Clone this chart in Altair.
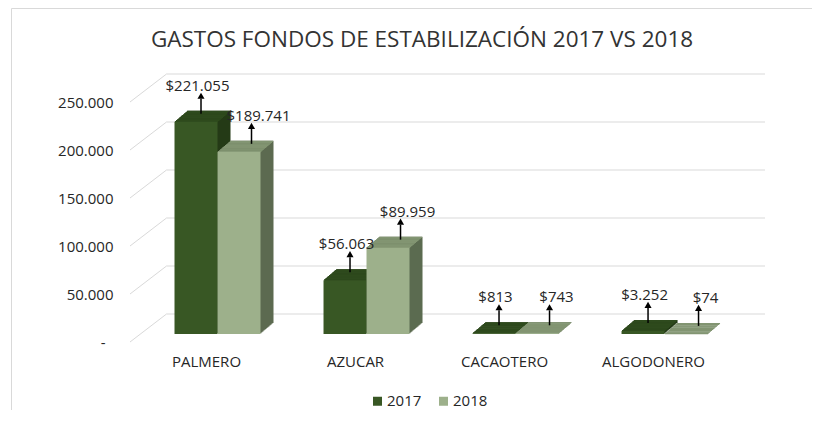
import altair as alt
import pandas as pd

# ---------------- data ----------------
categories = ["PALMERO", "AZUCAR", "CACAOTERO", "ALGODONERO"]
years = ["2017", "2018"]
values_2017 = [221055, 56063, 813, 3252]
values_2018 = [189741, 89959, 743, 74]
y_ticks = [0, 50000, 100000, 150000, 200000, 250000]
title_text = "GASTOS FONDOS DE ESTABILIZACIÓN 2017 VS 2018"


def money(v):
    return "$" + f"{v:,}".replace(",", ".")


df = pd.DataFrame({
    "cat": categories * 2,
    "year": ["2017"] * len(categories) + ["2018"] * len(categories),
    "value": values_2017 + values_2018,
})
df["label"] = df["value"].map(money)
grid_df = pd.DataFrame({"value": y_ticks})
one = pd.DataFrame({"k": [0]})

# ---------------- styling ----------------
W, H = 633, 240
FONT = "Open Sans"
GRID = "#d9d9d9"
TXT = "#262626"
front_colors = {"2017": "#385724", "2018": "#9db08b"}
top_colors = {"2017": "#2e4a1d", "2018": "#829572"}
side_colors = {"2017": "#243b16", "2018": "#5c6b50"}
bar_shift = {"2017": -10.5, "2018": 32.5}
arrow_shift = {"2017": -5.5, "2018": 45}
label_shift = {"2017": -9, "2018": 52}
BAR_W = 43
DEPTH_STEPS = 13
DY = 11 / 13

xscale = alt.Scale(domain=categories, paddingInner=0, paddingOuter=0.124, align=0)
yscale = alt.Scale(domain=[0, 250000], nice=False)
yaxis = alt.Axis(
    values=y_ticks,
    labelExpr="datum.value == 0 ? '-' : format(datum.value / 1000, 'd') + '.000'",
    labelPadding={"condition": {"test": "datum.value == 0", "value": 27}, "value": 19},
)
X = alt.X("cat:N", scale=xscale, title=None)
Y = alt.Y("value:Q", scale=yscale, axis=yaxis, title=None)
Y2 = alt.Y2("value:Q")

legend = alt.Legend(
    orient="none", legendX=238, legendY=299.5, direction="horizontal",
    title=None, symbolType="square", symbolSize=81, symbolStrokeWidth=0,
    labelFont=FONT, labelFontSize=15, labelColor=TXT, labelOffset=2,
    columnPadding=14, padding=0,
)
color = alt.Color(
    "year:N",
    scale=alt.Scale(domain=years, range=[front_colors[y] for y in years]),
    legend=legend,
)

layers = []

# outer frame
layers.append(
    alt.Chart(one).mark_rect(filled=False, stroke=GRID, strokeWidth=1).encode(
        x=alt.value(-120.5), x2=alt.value(W + 200),
        y=alt.value(-85.5), y2=alt.value(H + 200),
    )
)

# title
layers.append(
    alt.Chart(one).mark_text(
        text=title_text, font=FONT, fontSize=22.5, color="#333333",
        align="center", baseline="alphabetic",
    ).encode(x=alt.value(290), y=alt.value(-47.3))
)

# 3D wall grid: diagonal + back horizontal lines
layers.append(
    alt.Chart(grid_df).mark_rule(color=GRID, strokeWidth=1, yOffset=8, y2Offset=-20).encode(
        x=alt.value(-2), x2=alt.value(34.5), y=Y, y2=Y2
    )
)
layers.append(
    alt.Chart(grid_df).mark_rule(color=GRID, strokeWidth=1, yOffset=-20).encode(
        x=alt.value(34.5), x2=alt.value(W), y=Y
    )
)

# depth (side) extrusion
for yr in years:
    sub = alt.Chart(df).transform_filter(alt.datum.year == yr)
    for k in range(DEPTH_STEPS, 0, -1):
        layers.append(
            sub.mark_bar(
                width=BAR_W, color=side_colors[yr],
                xOffset=bar_shift[yr] + k,
                yOffset=-k * DY, y2Offset=-k * DY,
            ).encode(x=X, y=Y)
        )

# top faces
for yr in years:
    sub = alt.Chart(df).transform_filter(alt.datum.year == yr)
    for k in range(1, DEPTH_STEPS + 1):
        layers.append(
            sub.mark_bar(
                width=BAR_W, color=top_colors[yr],
                xOffset=bar_shift[yr] + k - 0.5,
                yOffset=-k * DY, y2Offset=-(k - 1) * DY + 0.4,
            ).encode(x=X, y=Y, y2=Y2)
        )

# front faces
for yr in years:
    sub = alt.Chart(df).transform_filter(alt.datum.year == yr)
    layers.append(
        sub.mark_bar(width=BAR_W, xOffset=bar_shift[yr]).encode(x=X, y=Y, color=color)
    )

# callout arrows and labels
for yr in years:
    sub = alt.Chart(df).transform_filter(alt.datum.year == yr)
    layers.append(
        sub.mark_rule(color="#000000", strokeWidth=1.5, xOffset=arrow_shift[yr],
                      yOffset=-8, y2Offset=-23).encode(x=X, y=Y, y2=Y2)
    )
    layers.append(
        sub.mark_point(shape="triangle-up", filled=True, color="#000000", opacity=1,
                       size=50, xOffset=arrow_shift[yr], yOffset=-26).encode(x=X, y=Y)
    )
    layers.append(
        sub.mark_text(font=FONT, fontSize=15, color=TXT, align="center",
                      baseline="alphabetic", xOffset=label_shift[yr], yOffset=-31).encode(
            x=X, y=Y, text="label:N"
        )
    )

chart = (
    alt.layer(*layers)
    .properties(
        width=W, height=H,
        padding={"left": 124, "top": 86, "right": 47, "bottom": 76},
        autosize=alt.AutoSizeParams(type="none"),
    )
    .configure(background="white")
    .configure_view(stroke="transparent")
    .configure_axisX(
        domain=False, ticks=False, grid=False, labelAngle=0,
        labelFont=FONT, labelFontSize=15, labelColor=TXT, labelPadding=20,
    )
    .configure_axisY(
        domain=False, ticks=False, grid=False,
        labelFont=FONT, labelFontSize=15, labelColor=TXT, labelOffset=8,
    )
)

chart.save("out.html", embed_options={"renderer": "svg", "actions": False})
